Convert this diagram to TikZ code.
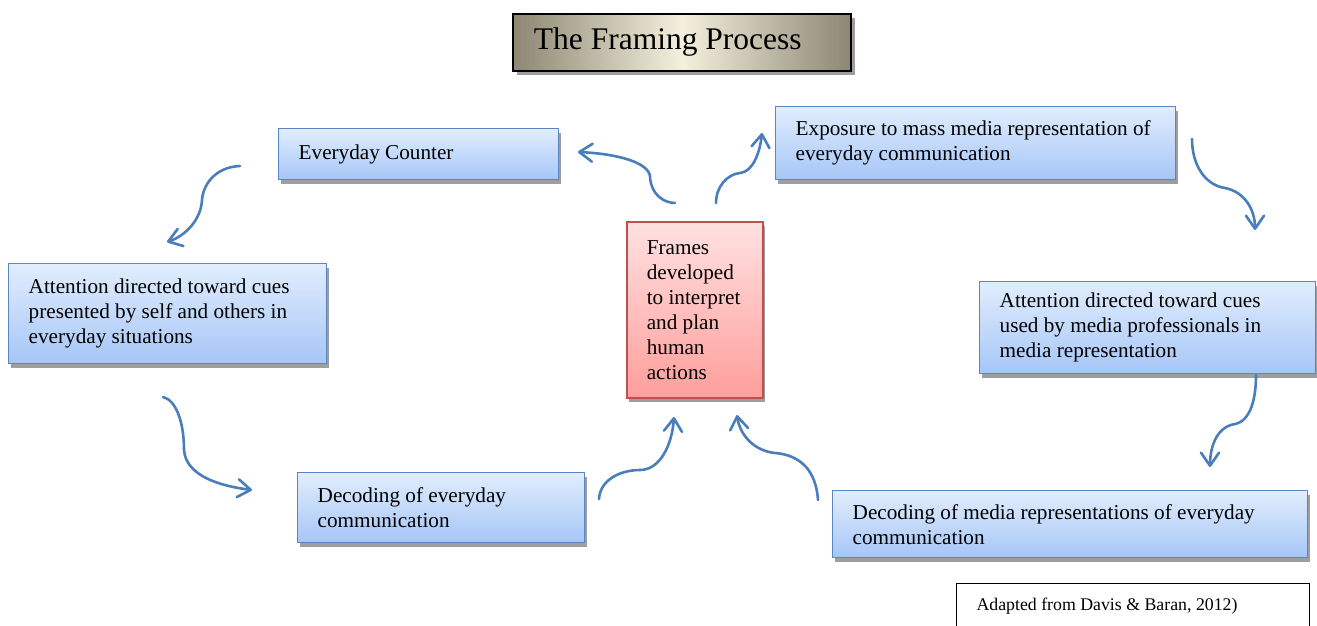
\documentclass[tikz,border=0pt]{standalone}
\usepackage{fontspec}
\setmainfont{Liberation Serif}
\usetikzlibrary{shadows,arrows.meta}
\definecolor{bluetop}{HTML}{E1EDFD}
\definecolor{bluebot}{HTML}{A6C6F7}
\definecolor{boxblue}{HTML}{5A87C2}
\definecolor{redtop}{HTML}{FFE1E1}
\definecolor{redbot}{HTML}{FF9E9B}
\definecolor{boxred}{HTML}{C0504D}
\definecolor{titlein}{HTML}{F4F0DD}
\definecolor{titleout}{HTML}{8C8672}
\definecolor{shadowgray}{HTML}{9E9E9E}
\definecolor{arrowblue}{HTML}{4A7EBB}
\begin{document}
\begin{tikzpicture}[x=1pt,y=-1pt,
  boxbase/.style={anchor=north west, inner xsep=20pt, inner ysep=0pt, align=flush left,
    font=\fontsize{21.2}{25}\selectfont},
  bluebox/.style={boxbase, draw=boxblue, line width=1.4pt, top color=bluetop, bottom color=bluebot,
    drop shadow={shadow xshift=2pt, shadow yshift=-4pt, fill=shadowgray, opacity=1}},
  redbox/.style={boxbase, draw=boxred, line width=1.6pt, top color=redtop, bottom color=redbot,
    drop shadow={shadow xshift=2pt, shadow yshift=-4pt, fill=shadowgray, opacity=1}},
  titlebox/.style={anchor=north west, draw=black, line width=1.8pt, left color=titleout,
    right color=titleout, middle color=titlein, inner xsep=21pt, inner ysep=0pt,
    minimum width=338pt, minimum height=57pt, text width=296pt, align=flush left,
    font=\fontsize{31.5}{36}\selectfont,
    drop shadow={shadow xshift=4pt, shadow yshift=-4pt, fill=shadowgray, opacity=1}},
  sourcebox/.style={anchor=north west, draw=black, line width=1pt, fill=white,
    inner xsep=20pt, inner ysep=0pt, minimum width=353pt, minimum height=45pt,
    text width=313pt, align=flush left, font=\fontsize{17.8}{21}\selectfont},
  flow/.style={draw=arrowblue, line width=2.6pt, line cap=round, line join=round,
    -{Straight Barb[length=13pt,width=18pt,line cap=round,line join=round]}}
]
\useasboundingbox (0,0) rectangle (1317,626);
\clip (0,0) rectangle (1317,626);

\node[titlebox] (title) at (512,13) {The Framing Process};
\node[bluebox, minimum width=280pt, minimum height=51pt, text width=240pt] (counter) at (278,128) {Everyday Counter};
\node[bluebox, minimum width=400pt, minimum height=73pt, text width=360pt] (exposure) at (775,106) {Exposure to mass media representation of\\everyday communication};
\node[bluebox, minimum width=318pt, minimum height=100pt, text width=278pt] (attl) at (8,263) {Attention directed toward cues\\presented by self and others in\\everyday situations};
\node[redbox, minimum width=136pt, minimum height=176pt, text width=96pt] (frames) at (626,221) {Frames\\developed\\to interpret\\and plan\\human\\actions};
\node[bluebox, minimum width=336pt, minimum height=92pt, text width=296pt] (attr) at (979,281) {Attention directed toward cues\\used by media professionals in\\media representation};
\node[bluebox, minimum width=287pt, minimum height=70pt, text width=247pt] (decl) at (297,472) {Decoding of everyday\\communication};
\node[bluebox, minimum width=475pt, minimum height=67pt, text width=435pt] (decr) at (832,490) {Decoding of media representations of everyday\\communication};
\node[sourcebox] (src) at (956,583) {Adapted from Davis \& Baran, 2012)};

% connector end points
\coordinate (c1s) at (240,166); \coordinate (c1e) at (167,242);
\coordinate (c2s) at (163,397); \coordinate (c2e) at (252,490);
\coordinate (c3s) at (599,499); \coordinate (c3e) at (674,417);
\coordinate (c4s) at (818,500); \coordinate (c4e) at (737,415);
\coordinate (c5s) at (675,203); \coordinate (c5e) at (578,152);
\coordinate (c6s) at (716,203); \coordinate (c6e) at (762,133);
\coordinate (c7s) at (1192,139); \coordinate (c7e) at (1255,230);
\coordinate (c8s) at (1256,375); \coordinate (c8e) at (1210,467);

\draw[flow] (c1s) .. controls (215,167) and (203,185) .. (202,200) .. controls (201,220) and (185,236) .. (c1e);
\draw[flow] (c2s) .. controls (176,400) and (184,422) .. (184,450) .. controls (186,476) and (220,486) .. (c2e);
\draw[flow] (c3s) .. controls (600,480) and (620,470) .. (640,470) .. controls (660,470) and (672,445) .. (c3e);
\draw[flow] (c4s) .. controls (816,470) and (800,455) .. (775,453) .. controls (755,451) and (740,436) .. (c4e);
\draw[flow] (c5s) .. controls (656,202) and (650,186) .. (650,176) .. controls (648,163) and (620,154) .. (c5e);
\draw[flow] (c6s) .. controls (716,186) and (728,174) .. (740,173) .. controls (753,172) and (760,152) .. (c6e);
\draw[flow] (c7s) .. controls (1192,165) and (1205,185) .. (1225,188) .. controls (1245,192) and (1255,210) .. (c7e);
\draw[flow] (c8s) .. controls (1256,400) and (1250,421) .. (1235,424) .. controls (1215,427) and (1210,450) .. (c8e);
\end{tikzpicture}
\end{document}
